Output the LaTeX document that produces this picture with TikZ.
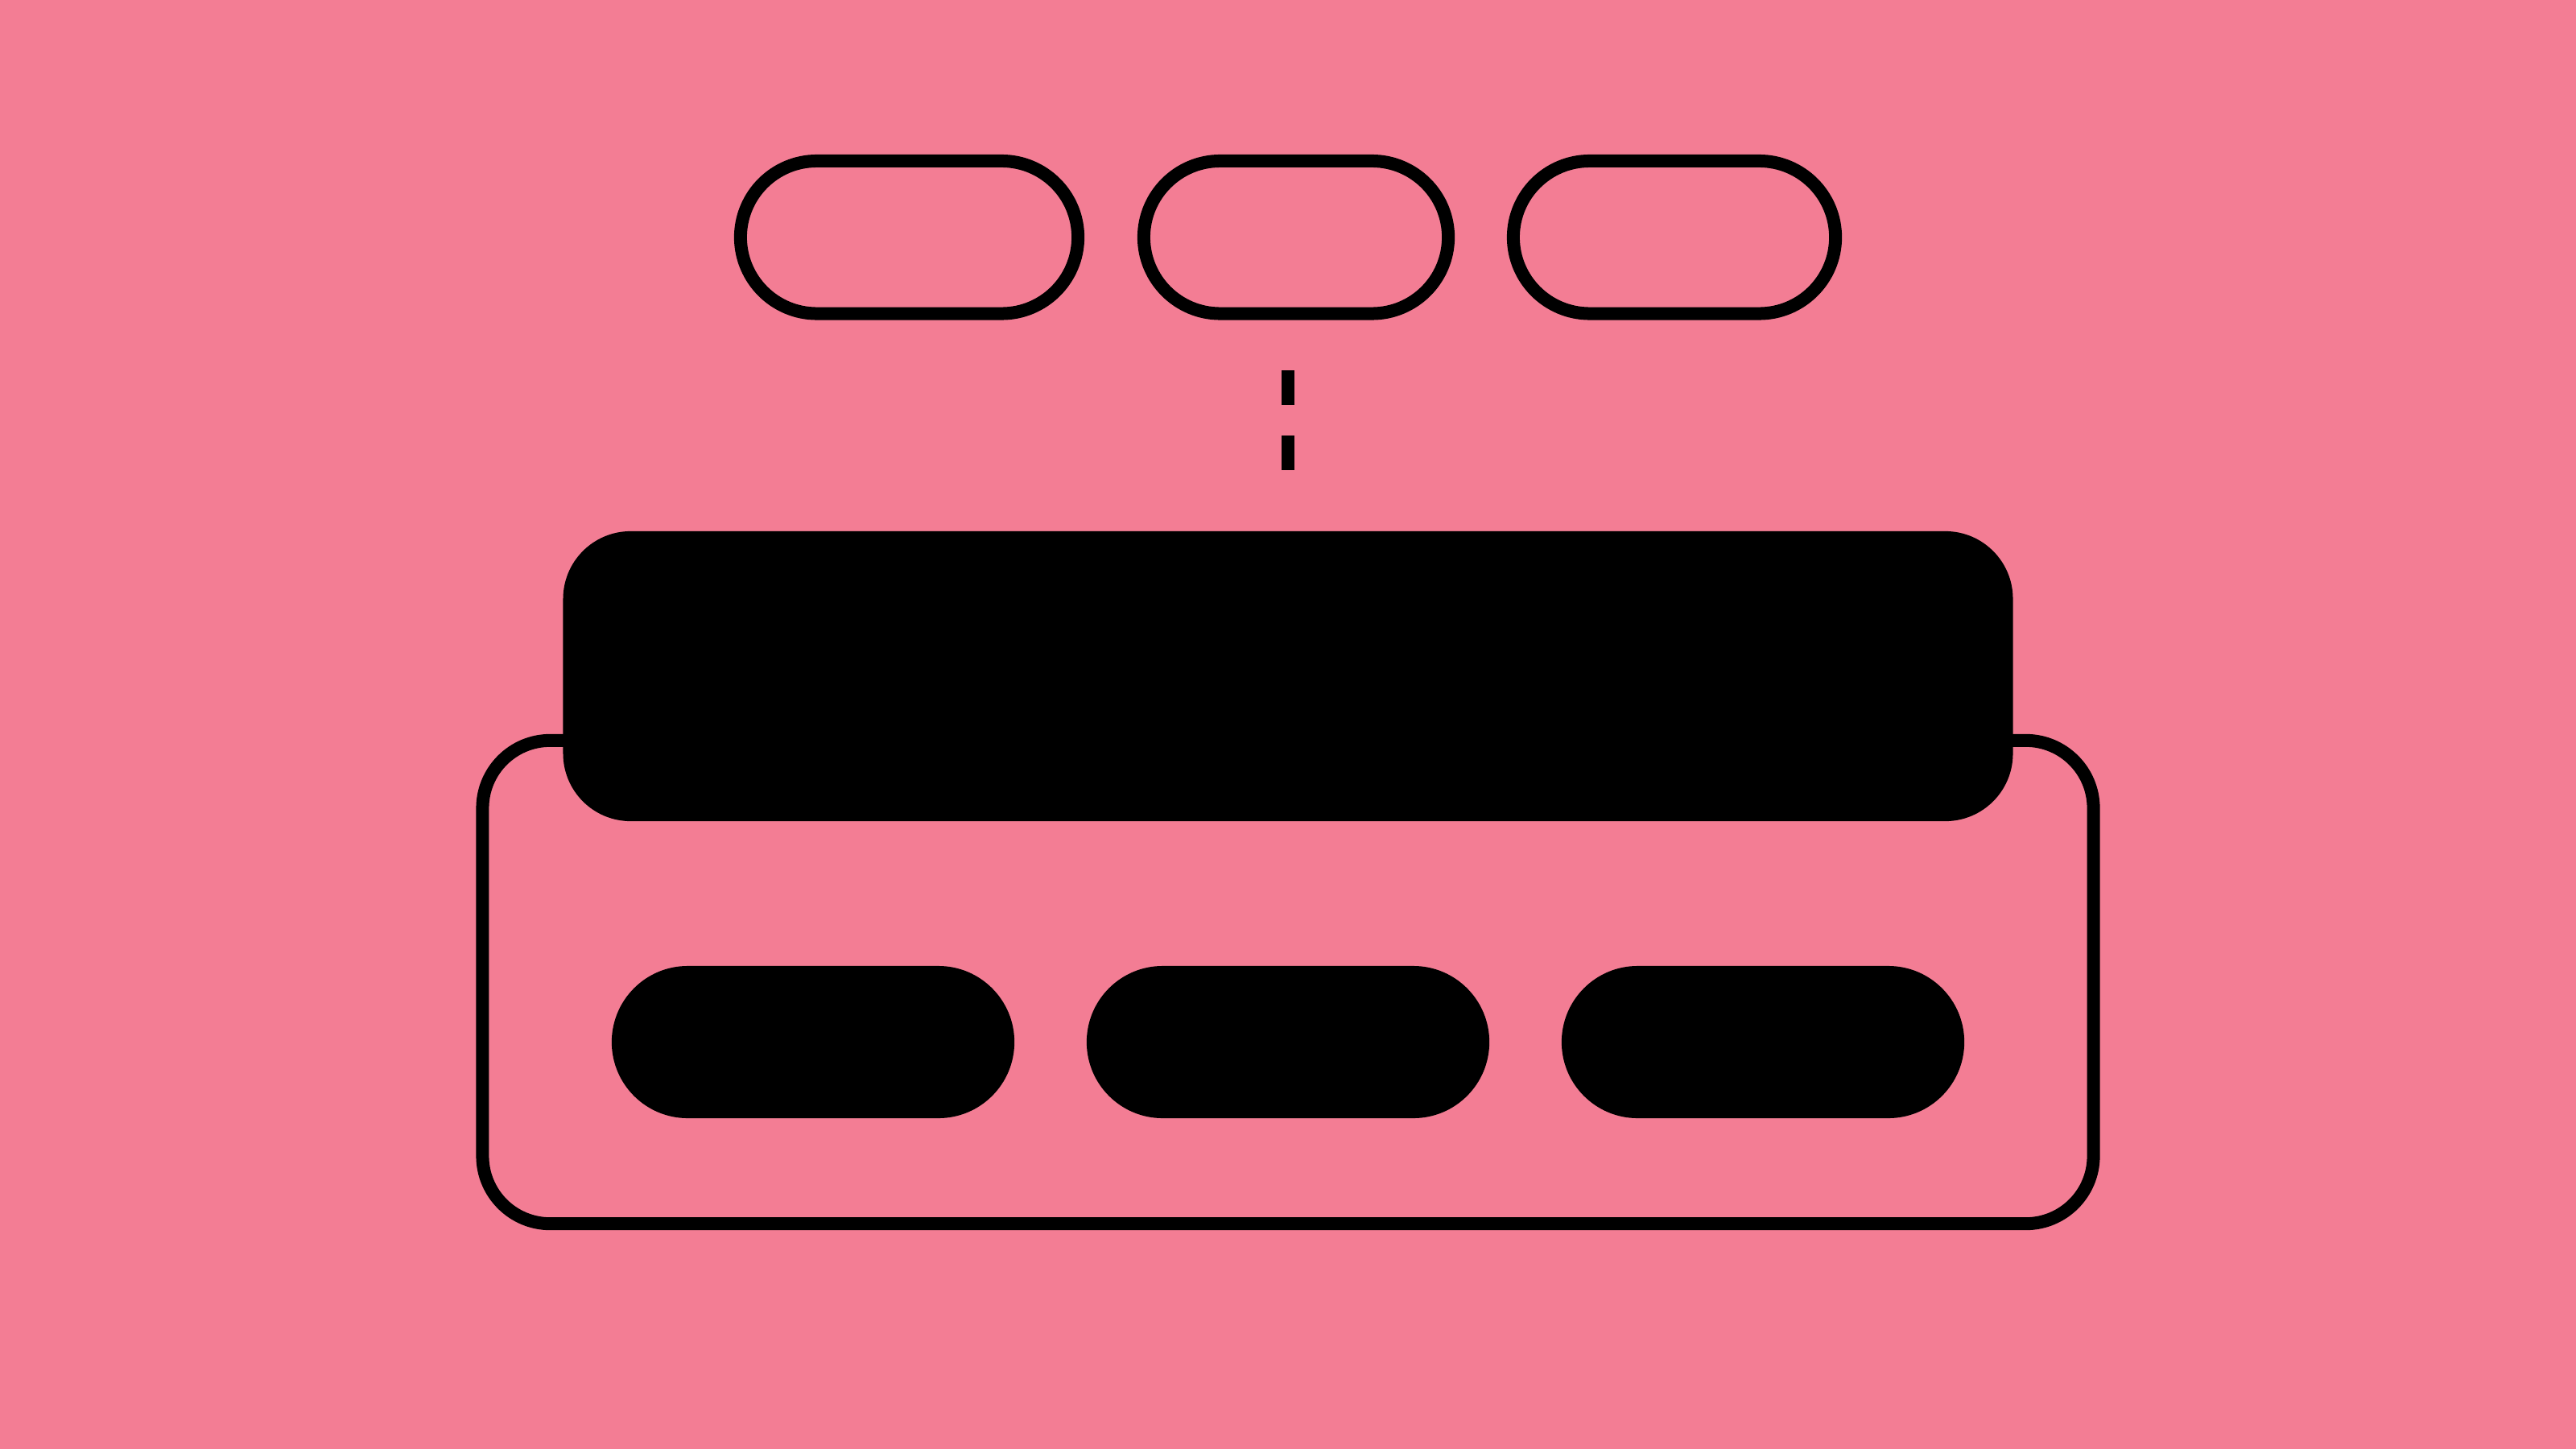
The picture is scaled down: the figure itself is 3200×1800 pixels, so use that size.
\documentclass[tikz,border=0pt]{standalone}
\definecolor{bgpink}{HTML}{F37D94}
\tikzset{
  outlinepill/.style={draw=black, line width=0.16cm, fill=none, inner sep=0pt, outer sep=0pt,
    minimum height=1.895cm, rounded corners=0.9474cm},
  solidpill/.style={draw=none, fill=black, inner sep=0pt, outer sep=0pt,
    minimum width=5cm, minimum height=1.89cm, rounded corners=0.9449cm},
  solidblock/.style={draw=none, fill=black, inner sep=0pt, outer sep=0pt, rounded corners=0.84cm},
  container/.style={draw=black, line width=0.16cm, fill=none, inner sep=0pt, outer sep=0pt, rounded corners=0.84cm},
  dashlink/.style={draw=black, line width=0.16cm, dash pattern=on 0.43cm off 0.38cm}
}
\begin{document}
\begin{tikzpicture}[x=0.01cm, y=-0.01cm]
  \fill[bgpink] (0,0) rectangle (3200,1800);
  \useasboundingbox (0,0) rectangle (3200,1800);
  % top outlined pills
  \node[outlinepill, minimum width=4.19cm] (p1) at (1129.5,294.75) {};
  \node[outlinepill, minimum width=3.78cm] (p2) at (1610,294.75) {};
  \node[outlinepill, minimum width=4.00cm] (p3) at (2080,294.75) {};
  % container
  \node[container, minimum width=20cm, minimum height=6cm] (box) at (1600,1220) {};
  % big solid block
  \node[solidblock, minimum width=18cm, minimum height=3.6cm] (big) at (1600,840) {};
  % bottom solid pills
  \node[solidpill] (b1) at (1010,1294.5) {};
  \node[solidpill] (b2) at (1600,1294.5) {};
  \node[solidpill] (b3) at (2190,1294.5) {};
  % dashed connector
  \draw[dashlink, shorten <=0.705cm, shorten >=0.76cm] (big.north |- p2.south) -- (big.north);
\end{tikzpicture}
\end{document}
